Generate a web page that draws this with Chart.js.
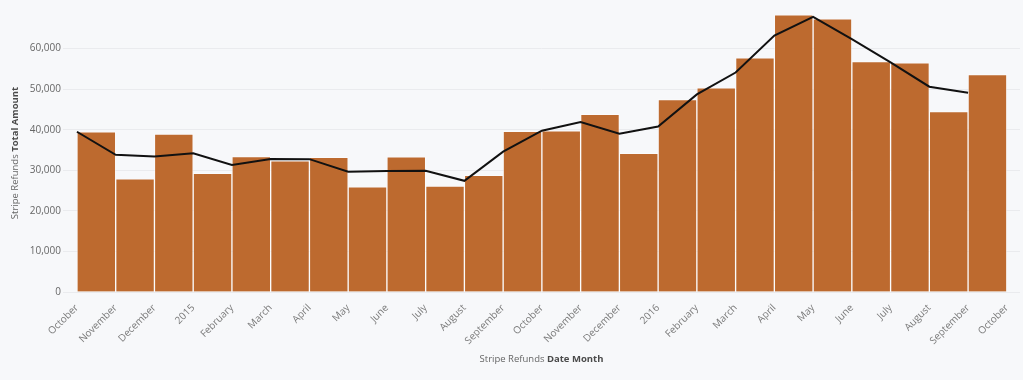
<!DOCTYPE html>
<html>
<head>
<meta charset="utf-8">
<script src="https://cdn.jsdelivr.net/npm/chart.js@4.4.1/dist/chart.umd.min.js"></script>
<style>
    html, body { margin: 0; padding: 0; background: #f7f8fa; }
    #wrap { width: 1023px; height: 380px; }
</style>
</head>
<body>
<div id="wrap"><canvas id="refundsChart"></canvas></div>
<script>
// tick labels sit on month boundaries, bars fill the month between them
const monthLabels = ['October', 'November', 'December', '2015', 'February', 'March', 'April', 'May',
    'June', 'July', 'August', 'September', 'October', 'November', 'December', '2016', 'February',
    'March', 'April', 'May', 'June', 'July', 'August', 'September', 'October'];
const refundTotals = [39500, 27900, 38900, 29250, 33350, 32300, 33200, 25950, 33300, 26100, 28750, 39600,
    39700, 43800, 34200, 47400, 50350, 57700, 68300, 67300, 56800, 56500, 44500, 53600];
const trendTotals = [39500, 33800, 33400, 34200, 31300, 32800, 32750, 29650, 29800, 29900, 27400, 34600,
    39750, 41900, 39000, 40800, 48700, 54100, 63200, 67800, 62300, 56600, 50600, 49100];
const yTicks = [0, 10000, 20000, 30000, 40000, 50000, 60000];

const fontFamily = '"Open Sans", "Noto Sans", sans-serif';
const titleSize = 9.5;

// axis titles have a plain prefix and a bold field name
const axisTitles = {
    id: 'axisTitles',
    afterDraw(chart) {
        const ctx = chart.ctx;
        const area = chart.chartArea;
        function drawMixed(parts, cx, cy) {
            let total = 0;
            parts.forEach(p => {
                ctx.font = (p.bold ? 'bold ' : '') + titleSize + 'px ' + fontFamily;
                p.w = ctx.measureText(p.text).width;
                total += p.w;
            });
            let x = cx - total / 2;
            parts.forEach(p => {
                ctx.font = (p.bold ? 'bold ' : '') + titleSize + 'px ' + fontFamily;
                ctx.fillStyle = p.bold ? '#4a4a4a' : '#666';
                ctx.fillText(p.text, x, cy);
                x += p.w;
            });
        }
        ctx.save();
        ctx.textBaseline = 'middle';
        ctx.textAlign = 'left';
        drawMixed([{text: 'Stripe Refunds '}, {text: 'Date Month', bold: true}], (area.left + area.right) / 2, 359);
        ctx.translate(15, (area.top + area.bottom) / 2 + 3);
        ctx.rotate(-Math.PI / 2);
        drawMixed([{text: 'Stripe Refunds '}, {text: 'Total Amount', bold: true}], 0, 0);
        ctx.restore();
    }
};

const data = {
    datasets: [{
            type: 'line',
            label: 'Trend',
            data: trendTotals.map((v, i) => ({x: i, y: v})),
            borderColor: '#111',
            borderWidth: 2,
            pointRadius: 0,
            tension: 0,
            fill: false,
            order: 0
        }, {
            type: 'bar',
            label: 'Total Amount',
            data: refundTotals.map((v, i) => ({x: i + 0.5, y: v})),
            backgroundColor: '#bd6a2f',
            borderColor: 'rgba(255,255,255,0.45)',
            borderWidth: 1,
            barPercentage: 1,
            categoryPercentage: 1,
            order: 1
        }]
};

const config = {
    data: data,
    plugins: [axisTitles],
    options: {
        responsive: true,
        maintainAspectRatio: false,
        animation: false,
        layout: {padding: {top: 2, right: 3, left: 0, bottom: 0}},
        plugins: {
            legend: {display: false},
            tooltip: {enabled: false}
        },
        scales: {
            x: {
                type: 'linear',
                offset: false,
                min: -0.36,
                max: 24.34,
                afterBuildTicks: s => { s.ticks = monthLabels.map((l, i) => ({value: i})); },
                afterFit: s => {
                    s.height = 88;
                    s.paddingLeft = 0;
                    s.paddingRight = 0;
                },
                grid: {display: false, offset: false},
                border: {display: false},
                ticks: {
                    autoSkip: false,
                    minRotation: 45,
                    maxRotation: 45,
                    padding: 2,
                    color: '#7a7a7a',
                    font: {family: fontFamily, size: 10},
                    callback: v => monthLabels[Math.round(v)]
                }
            },
            y: {
                min: 0,
                max: 70000,
                afterBuildTicks: s => { s.ticks = yTicks.map(v => ({value: v})); },
                afterFit: s => { s.width = 63; },
                grid: {color: '#eaebee', drawTicks: false},
                border: {display: false},
                ticks: {
                    padding: 2,
                    color: '#666',
                    font: {family: fontFamily, size: 10},
                    callback: v => v.toLocaleString('en-US')
                }
            }
        }
    }
};

let ctx = document.getElementById('refundsChart').getContext('2d');
new Chart(ctx, config);
</script>
</body>
</html>
